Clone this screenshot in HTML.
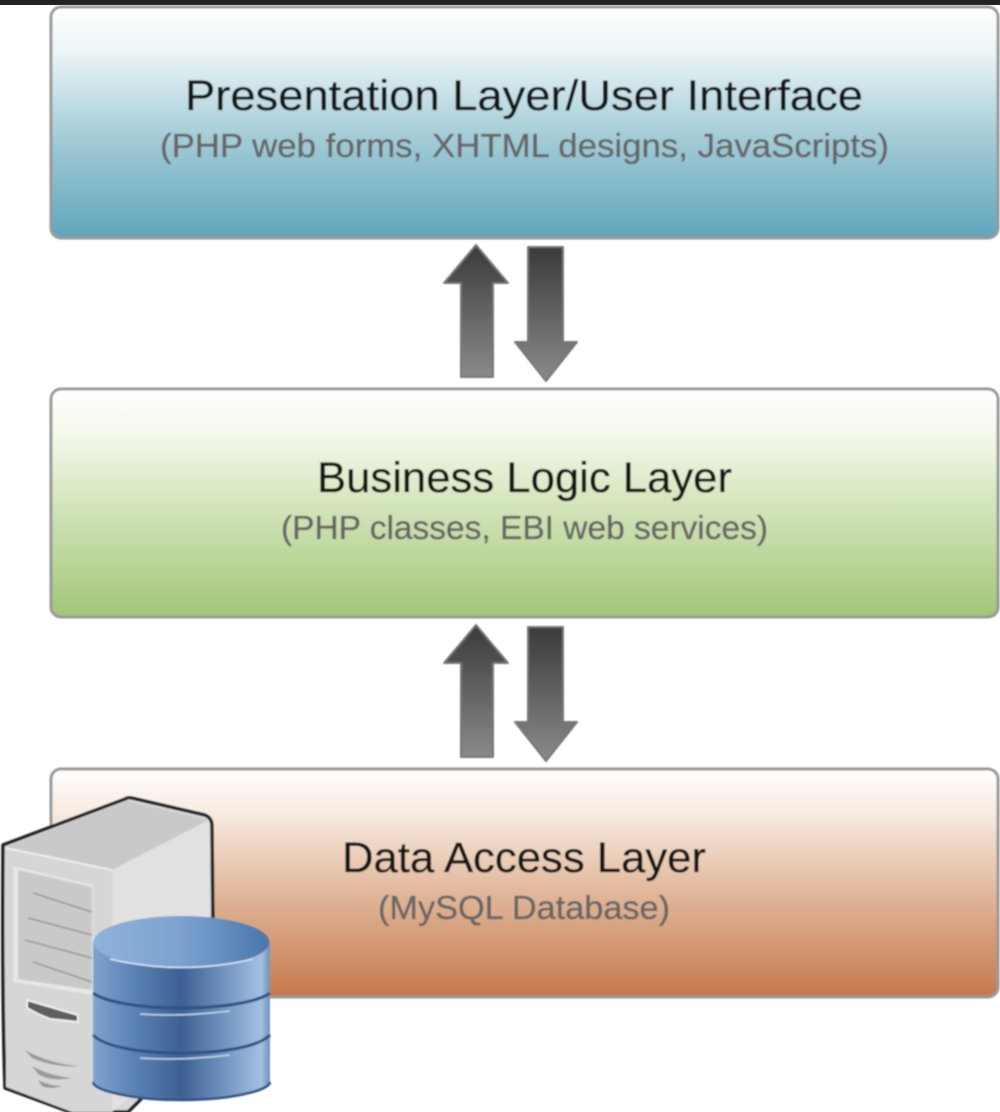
<!DOCTYPE html>
<html><head><meta charset="utf-8">
<style>html,body{margin:0;padding:0;background:#fff;width:1000px;height:1112px;overflow:hidden}svg{display:block}
text{font-family:"Liberation Sans",sans-serif}
.t{font-size:43px;fill:#151515;stroke:#151515;stroke-width:.35px}.s{font-size:33px;fill:#666;stroke:#666;stroke-width:.35px}</style></head>
<body>
<svg width="1000" height="1112" viewBox="0 0 1000 1112" xmlns="http://www.w3.org/2000/svg">
<defs>
<linearGradient id="b1" x1="0" y1="0" x2="0" y2="1"><stop offset="0" stop-color="#fff"/><stop offset=".2" stop-color="#eaf4f6"/><stop offset=".55" stop-color="#a6cdd8"/><stop offset="1" stop-color="#60a5ba"/></linearGradient>
<linearGradient id="b2" x1="0" y1="0" x2="0" y2="1"><stop offset="0" stop-color="#fff"/><stop offset=".2" stop-color="#f3f8ea"/><stop offset=".55" stop-color="#cfe2b5"/><stop offset="1" stop-color="#a0c676"/></linearGradient>
<linearGradient id="b3" x1="0" y1="0" x2="0" y2="1"><stop offset="0" stop-color="#fff"/><stop offset=".2" stop-color="#f7e9df"/><stop offset=".55" stop-color="#e0b699"/><stop offset="1" stop-color="#c5794a"/></linearGradient>
<linearGradient id="au" x1="0" y1="0" x2="0" y2="1"><stop offset="0" stop-color="#3a3a3a"/><stop offset="1" stop-color="#8a8a8a"/></linearGradient>
<linearGradient id="cyl" x1="0" y1="0" x2="1" y2="0"><stop offset="0" stop-color="#7fa4cf"/><stop offset=".2" stop-color="#5f86b8"/><stop offset=".5" stop-color="#3d6094"/><stop offset=".75" stop-color="#7395c0"/><stop offset=".95" stop-color="#a3c0e0"/><stop offset="1" stop-color="#6f90b8"/></linearGradient>
<linearGradient id="ctop" x1="0" y1="0" x2="1" y2="0"><stop offset="0" stop-color="#8fb2da"/><stop offset=".5" stop-color="#7ba2d0"/><stop offset="1" stop-color="#4a76ab"/></linearGradient>
<filter id="bl"><feGaussianBlur stdDeviation="0.7"/></filter>
</defs>
<rect width="1000" height="1112" fill="#fff"/>
<rect width="1000" height="5" fill="#222"/>
<g filter="url(#bl)">
<rect x="51" y="7" width="947" height="231" rx="10" fill="url(#b1)" stroke="#999" stroke-width="3"/>
<rect x="51" y="389" width="947" height="228" rx="10" fill="url(#b2)" stroke="#999" stroke-width="3"/>
<rect x="51" y="769" width="947" height="228" rx="10" fill="url(#b3)" stroke="#999" stroke-width="3"/>
<path d="M476 245L508 283H493V377H461V283H444Z" fill="url(#au)" stroke="#777" stroke-width="2" stroke-linejoin="round"/>
<path d="M528 247H563V342H577L546 381L515 342H528Z" fill="url(#au)" stroke="#777" stroke-width="2" stroke-linejoin="round"/>
<path d="M476 625L508 663H493V757H461V663H444Z" fill="url(#au)" stroke="#777" stroke-width="2" stroke-linejoin="round"/>
<path d="M528 627H563V722H577L546 761L515 722H528Z" fill="url(#au)" stroke="#777" stroke-width="2" stroke-linejoin="round"/>
<text class="t" x="185" y="110" textLength="678" lengthAdjust="spacingAndGlyphs">Presentation Layer/User Interface</text>
<text class="s" x="160" y="157" textLength="729" lengthAdjust="spacingAndGlyphs">(PHP web forms, XHTML designs, JavaScripts)</text>
<text class="t" x="317" y="492" textLength="415" lengthAdjust="spacingAndGlyphs">Business Logic Layer</text>
<text class="s" x="281" y="539" textLength="487" lengthAdjust="spacingAndGlyphs">(PHP classes, EBI web services)</text>
<text class="t" x="342" y="872" textLength="364" lengthAdjust="spacingAndGlyphs">Data Access Layer</text>
<text class="s" x="378" y="919" textLength="292" lengthAdjust="spacingAndGlyphs">(MySQL Database)</text>
<!-- server -->
<path d="M3 845L125 799Q128 797 132 798L205 815Q212 818 212 826L214 1020L143 1097L128 1112H70L5 1088Q2 1000 3 845Z" fill="#d8d8d8" stroke="#222" stroke-width="3.5" stroke-linejoin="round"/>
<path d="M6 847L127 801L208 820L112 870Z" fill="#c9c9c9"/>
<path d="M112 870L209 820L210 1030L112 1112Z" fill="#e1e1e1"/>
<path d="M6 848L112 870V1112H72L6 1087Z" fill="#d6d6d6"/>
<path d="M6 848L112 870" stroke="#eee" stroke-width="2" fill="none"/>
<path d="M13 866L93 885V995L13 982Z" fill="#e6e6e6"/>
<path d="M18 870L92 887V990L18 979Z" fill="#c9c9c9"/>
<path d="M33 893L92 912M28 918L92 935M25 940L92 958M33 962L92 982" stroke="#979797" stroke-width="1.5" fill="none"/>
<path d="M27 1000L78 1015V1022L50 1019L38 1014L27 1008Z" fill="#5e5e5e" stroke="#efefef" stroke-width="2"/>
<path d="M25 1050Q50 1064 80 1066Q55 1068 32 1058ZM32 1066Q50 1076 72 1078Q50 1082 38 1074ZM38 1080Q50 1086 62 1086Q50 1090 42 1086Z" fill="#9a9a9a"/>
<!-- database -->
<path d="M93 942V1082C93 1090 130 1100 181 1100S270 1090 270 1082V942Z" fill="url(#cyl)"/>
<path d="M93 993C105 1002 140 1008 181 1008S258 1002 270 993" stroke="#2f5284" stroke-width="3" fill="none"/>
<path d="M93 1035C105 1047 140 1053 181 1053S258 1047 270 1035" stroke="#2f5284" stroke-width="3" fill="none"/>
<path d="M140 1014Q181 1017 230 1011M140 1058Q181 1061 230 1055" stroke="#c3d5ea" stroke-width="1.5" fill="none"/>
<ellipse cx="181.500" cy="942" rx="88" ry="26" fill="url(#ctop)"/>
<path d="M110 959Q181 976 253 959" stroke="#dbe6f2" stroke-width="1.500" fill="none"/>
<path d="M93 1082C93 1090 130 1100 181 1100S270 1090 270 1082" stroke="#2f5284" stroke-width="2.500" fill="none"/>
</g>
</svg>
</body></html>
